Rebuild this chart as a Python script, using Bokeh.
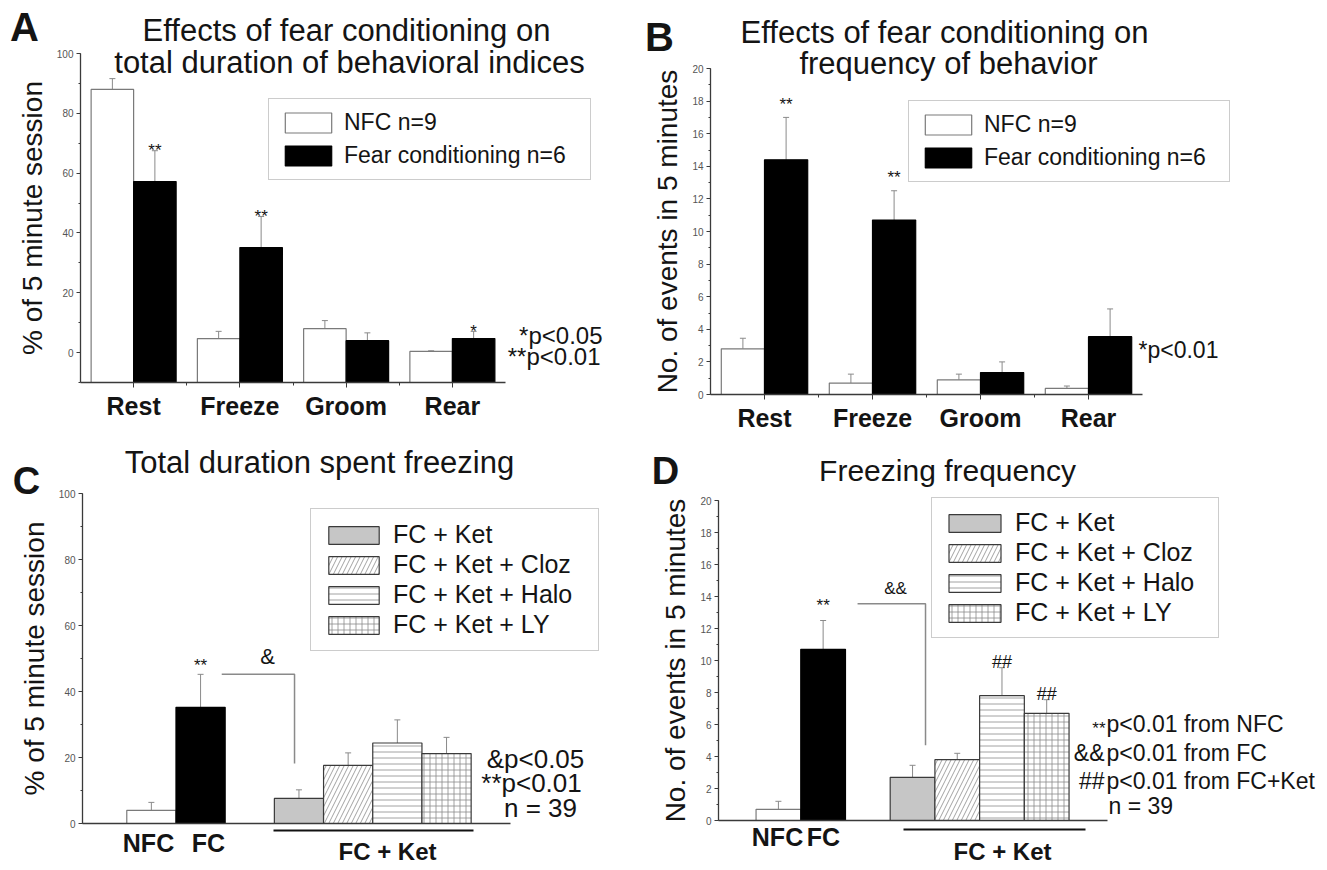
from bokeh.plotting import figure
from bokeh.models import (ColumnDataSource, Whisker, TeeHead, Label, Legend, LegendItem,
                          FixedTicker, SingleIntervalTicker, Range1d)
from bokeh.layouts import column, row
from bokeh.embed import file_html
from bokeh.resources import INLINE

# ------------------------------------------------------------------ data
behaviors = ["Rest", "Freeze", "Groom", "Rear"]
# A: % of 5 minute session
dur_nfc = [88.0, 4.7, 8.0, 0.4]
dur_nfc_err = [3.6, 2.4, 2.7, 0.2]
dur_fc = [57.2, 35.1, 4.0, 4.7]
dur_fc_err = [10.3, 10.4, 2.6, 2.4]
dur_marks = ["**", "**", "", "*"]
# B: number of events in 5 minutes
freq_nfc = [2.8, 0.7, 0.9, 0.37]
freq_nfc_err = [0.65, 0.55, 0.35, 0.15]
freq_fc = [14.4, 10.7, 1.35, 3.55]
freq_fc_err = [2.6, 1.8, 0.65, 1.7]
freq_marks = ["**", "**", "", ""]
legend_ab = ["NFC n=9", "Fear conditioning n=6"]
# C / D: freezing
groups = ["NFC", "FC", "FC + Ket", "FC + Ket + Cloz", "FC + Ket + Halo", "FC + Ket + LY"]
frz_dur = [4.0, 35.2, 7.6, 17.6, 24.4, 21.2]
frz_dur_err = [2.4, 10.0, 2.6, 3.8, 7.0, 4.9]
frz_dur_marks = ["", "**", "", "", "", ""]
frz_freq = [0.7, 10.7, 2.7, 3.8, 7.8, 6.7]
frz_freq_err = [0.5, 1.8, 0.75, 0.4, 1.75, 0.85]
frz_freq_marks = ["", "**", "", "", "##", "##"]

# ------------------------------------------------------------------ style
FONT = "Liberation Sans"
TXT = "#141414"
AX = "#3a3a3a"
ERR = "#8a8a8a"

group_style = [
    dict(fill_color="white", line_color="#7a7a7a"),
    dict(fill_color="black", line_color="black"),
    dict(fill_color="#c6c6c6", line_color="#3a3a3a"),
    dict(fill_color="white", line_color="#3a3a3a", hatch_pattern="/", hatch_color="#8a8a8a",
         hatch_scale=9, hatch_weight=0.8),
    dict(fill_color="white", line_color="#3a3a3a", hatch_pattern="-", hatch_color="#8a8a8a",
         hatch_scale=6, hatch_weight=0.8),
    dict(fill_color="white", line_color="#3a3a3a", hatch_pattern="+", hatch_color="#8a8a8a",
         hatch_scale=6, hatch_weight=0.8),
]


class Panel:
    """A figure whose frame covers the whole canvas; the axes sit at picture
    pixels L,R (for the x span xr) and T,B (for the y span yr)."""

    def __init__(self, ox, oy, w, h, L, R, T, B, xr, yr):
        self.ox, self.oy, self.w, self.h = ox, oy, w, h
        self.L, self.R, self.T, self.B = L, R, T, B
        self.xr, self.yr = xr, yr
        ux = (xr[1] - xr[0]) / (R - L)
        uy = (yr[1] - yr[0]) / (B - T)
        fx = (xr[0] + (ox - L) * ux, xr[0] + (ox + w - L) * ux)
        fy = (yr[0] - (oy + h - B) * uy, yr[1] + (T - oy) * uy)
        p = figure(width=w, height=h, x_range=Range1d(*fx), y_range=Range1d(*fy),
                   output_backend="svg", toolbar_location=None, title=None,
                   min_border=0, min_border_left=0, min_border_right=0,
                   min_border_top=0, min_border_bottom=0)
        p.xgrid.visible = False
        p.ygrid.visible = False
        p.outline_line_color = None
        p.background_fill_color = "white"
        p.border_fill_color = "white"
        p.xaxis.fixed_location = yr[0]
        p.xaxis.bounds = xr
        p.yaxis.fixed_location = xr[0]
        p.yaxis.bounds = yr
        self.p = p

    def dx(self, px):
        return self.xr[0] + (px - self.L) * (self.xr[1] - self.xr[0]) / (self.R - self.L)

    def dy(self, py):
        return self.yr[0] + (self.B - py) * (self.yr[1] - self.yr[0]) / (self.B - self.T)

    def ppu(self):
        return (self.B - self.T) / (self.yr[1] - self.yr[0])

    def loc(self, px_left, py_bottom):
        return (px_left - self.ox, self.oy + self.h - py_bottom)

    def label(self, px, py, text, size, bold=False, align="center", baseline="middle", color=TXT):
        self.p.add_layout(Label(x=self.dx(px), y=self.dy(py), text=text, text_font=FONT,
                                text_font_size=f"{size}px",
                                text_font_style="bold" if bold else "normal",
                                text_align=align, text_baseline=baseline, text_color=color))

    def label_data(self, x, y, text, size, bold=False, align="center", baseline="middle"):
        self.p.add_layout(Label(x=x, y=y, text=text, text_font=FONT, text_font_size=f"{size}px",
                                text_font_style="bold" if bold else "normal",
                                text_align=align, text_baseline=baseline, text_color=TXT))

    def hline(self, px0, px1, py, color="#111111", width=2):
        self.p.line(x=[self.dx(px0), self.dx(px1)], y=[self.dy(py), self.dy(py)],
                    line_color=color, line_width=width)


def style_axes(pn, ylabel, yint):
    p = pn.p
    for ax in (p.xaxis[0], p.yaxis[0]):
        ax.axis_line_color = AX
        ax.axis_line_width = 1.3
        ax.major_tick_line_color = AX
        ax.minor_tick_line_color = AX
        ax.major_tick_in = 0
        ax.minor_tick_in = 0
    y = p.yaxis[0]
    y.ticker = SingleIntervalTicker(interval=yint, num_minor_ticks=2)
    y.major_tick_out = 4
    y.minor_tick_out = 2
    y.major_label_text_font = FONT
    y.major_label_text_font_size = "10px"
    y.major_label_text_color = "#555555"
    y.major_label_standoff = 3
    y.axis_label = ylabel
    y.axis_label_text_font = FONT
    y.axis_label_text_font_size = "28px"
    y.axis_label_text_font_style = "normal"
    y.axis_label_text_color = TXT
    y.axis_label_standoff = 6


def whiskers(pn, xs, tops, errs):
    src = ColumnDataSource(dict(x=xs, lower=tops, upper=[t + e for t, e in zip(tops, errs)]))
    pn.p.add_layout(Whisker(base="x", lower="lower", upper="upper", source=src, dimension="height",
                            line_color=ERR, line_width=1,
                            upper_head=TeeHead(size=6, line_color=ERR, line_width=1),
                            lower_head=None))


def legend(pn, items, loc, glyph_w, glyph_h, size, padding, spacing, standoff, label_w):
    lg = Legend(items=items, location=loc, glyph_width=glyph_w, glyph_height=glyph_h,
                label_text_font=FONT, label_text_font_size=f"{size}px", label_text_color=TXT,
                padding=padding, spacing=spacing, label_standoff=standoff, label_width=label_w,
                border_line_color="#9a9a9a", border_line_width=1.5,
                background_fill_color="white", background_fill_alpha=1.0, margin=0)
    pn.p.add_layout(lg)


# ------------------------------------------------------------------ panels A & B
def behavior_panel(pn, nfc, nfc_err, fc, fc_err, marks, ylabel, yint, star_pad_px,
                   leg_loc, leg_label_w):
    p = pn.p
    style_axes(pn, ylabel, yint)
    xa = p.xaxis[0]
    xa.ticker = FixedTicker(ticks=[i + 1 for i in range(len(behaviors))],
                            minor_ticks=[i + 1.5 for i in range(len(behaviors) - 1)])
    xa.major_label_overrides = {i + 1: b for i, b in enumerate(behaviors)}
    xa.major_label_text_font = FONT
    xa.major_label_text_font_size = "25px"
    xa.major_label_text_font_style = "bold"
    xa.major_label_text_color = TXT
    xa.major_tick_out = 5
    xa.minor_tick_out = 3
    xa.major_label_standoff = 4
    base = pn.yr[0]
    x_n = [i + 1 - 0.2 for i in range(len(behaviors))]
    x_f = [i + 1 + 0.2 for i in range(len(behaviors))]
    r1 = p.vbar(x=x_n, top=nfc, bottom=base, width=0.4, fill_color="white",
                line_color="#7a7a7a", line_width=1.2)
    r2 = p.vbar(x=x_f, top=fc, bottom=base, width=0.4, fill_color="black",
                line_color="black", line_width=1.2)
    whiskers(pn, x_n, nfc, nfc_err)
    whiskers(pn, x_f, fc, fc_err)
    pad = star_pad_px / pn.ppu()
    for i, m in enumerate(marks):
        if m:
            pn.label_data(x_f[i], fc[i] + fc_err[i] + pad, m, 17, baseline="alphabetic")
    legend(pn, [LegendItem(label=legend_ab[0], renderers=[r1]),
                LegendItem(label=legend_ab[1], renderers=[r2])],
           leg_loc, 58, 25, 23, 10, 6, 7, leg_label_w)


A = Panel(0, 0, 640, 430, L=80, R=505, T=53, B=382, xr=(0.5, 4.5), yr=(-10, 100))
behavior_panel(A, dur_nfc, dur_nfc_err, dur_fc, dur_fc_err, dur_marks,
               "% of 5 minute session", 20, 0, A.loc(268, 180), 236)
A.label(24, 26, "A", 40, bold=True)
A.label(346, 30, "Effects of fear conditioning on", 31)
A.label(349, 62, "total duration of behavioral indices", 31)
A.label(602, 335, "*p<0.05", 24, align="right")
A.label(600, 356, "**p<0.01", 24, align="right")

B = Panel(640, 0, 685, 430, L=710, R=1142, T=68, B=394, xr=(0.5, 4.5), yr=(0, 20))
behavior_panel(B, freq_nfc, freq_nfc_err, freq_fc, freq_fc_err, freq_marks,
               "No. of events in 5 minutes", 2, 13, B.loc(908, 182), 235)
B.label(659, 36, "B", 40, bold=True)
B.label(944, 32, "Effects of fear conditioning on", 31)
B.label(948, 63, "frequency of behavior", 31)
B.label(1138, 349, "*p<0.01", 23, align="left")


# ------------------------------------------------------------------ panels C & D
def freeze_panel(pn, vals, errs, marks, ylabel, yint, star_pad_px, hash_pad_px,
                 leg_loc, leg_glyph_w, leg_label_w, leg_pad):
    p = pn.p
    style_axes(pn, ylabel, yint)
    xa = p.xaxis[0]
    xa.ticker = FixedTicker(ticks=[])
    xa.major_tick_out = 0
    xa.minor_tick_out = 0
    xs = [i + 1 if i < 2 else i + 2 for i in range(len(groups))]
    items = []
    for i, g in enumerate(groups):
        r = p.vbar(x=[xs[i]], top=[vals[i]], bottom=0, width=1.0, line_width=1.2, **group_style[i])
        if i >= 2:
            items.append(LegendItem(label=g, renderers=[r]))
    whiskers(pn, xs, vals, errs)
    for i, m in enumerate(marks):
        if m:
            pad = (star_pad_px if m.startswith("*") else hash_pad_px) / pn.ppu()
            pn.label_data(xs[i], vals[i] + errs[i] + pad, m, 17 if m.startswith("*") else 18,
                          baseline="alphabetic")
    legend(pn, items, leg_loc, leg_glyph_w, 22, 25, leg_pad, 1, 8, leg_label_w)
    return xs


C = Panel(0, 430, 640, 432, L=82, R=510, T=493, B=823, xr=(-0.4, 8.3), yr=(0, 100))
xc = freeze_panel(C, frz_dur, frz_dur_err, frz_dur_marks, "% of 5 minute session", 20, 9, 6,
                  C.loc(310, 651), 63, 194, 11)
# significance bracket FC -> FC+Ket
yb = frz_dur[1] + frz_dur_err[1]
C.p.line(x=[xc[1] + 0.43, xc[2] - 0.09, xc[2] - 0.09],
         y=[yb, yb, frz_dur[2] + frz_dur_err[2] + 8], line_color=ERR, line_width=1.5)
C.label(267, 656, "&", 22)
C.hline(273, 473, 830)
C.label(26, 480, "C", 38, bold=True)
C.label(319, 462, "Total duration spent freezing", 31)
C.label(148, 842, "NFC", 25, bold=True)
C.label(208, 842, "FC", 25, bold=True)
C.label(387, 851, "FC + Ket", 24, bold=True, baseline="alphabetic")
C.label(535, 758, "&p<0.05", 26)
C.label(531, 782, "**p<0.01", 26)
C.label(540, 807, "n = 39", 26)

D = Panel(640, 430, 685, 432, L=718, R=1107, T=500, B=820, xr=(-0.34, 8.36), yr=(0, 20))
xd = freeze_panel(D, frz_freq, frz_freq_err, frz_freq_marks, "No. of events in 5 minutes", 2,
                  15, 6, D.loc(931, 638), 65, 193, 10)
yb = frz_freq[1] + frz_freq_err[1] + 1.05
D.p.line(x=[xd[1] + 0.77, xd[2] + 0.29, xd[2] + 0.29],
         y=[yb, yb, frz_freq[2] + frz_freq_err[2] + 1.25], line_color=ERR, line_width=1.5)
D.label(895, 588, "&&", 17)
D.hline(903, 1085, 829)
D.label(665, 470, "D", 38, bold=True)
D.label(947, 470, "Freezing frequency", 30)
D.label(777, 836, "NFC", 25, bold=True)
D.label(823, 836, "FC", 25, bold=True)
D.label(1002, 851, "FC + Ket", 24, bold=True, baseline="alphabetic")
D.label(1105, 728, "**", 17, align="right", baseline="alphabetic")
D.label(1104, 752, "&&", 23, align="right")
D.label(1104, 780, "##", 23, align="right")
D.label(1106, 723, "p<0.01 from NFC", 23, align="left")
D.label(1106, 752, "p<0.01 from FC", 23, align="left")
D.label(1106, 780, "p<0.01 from FC+Ket", 23, align="left")
D.label(1108, 805, "n = 39", 23, align="left")

layout = column(row(A.p, B.p), row(C.p, D.p))
open("out.html", "w").write(file_html(layout, INLINE, title="Fear conditioning"))
